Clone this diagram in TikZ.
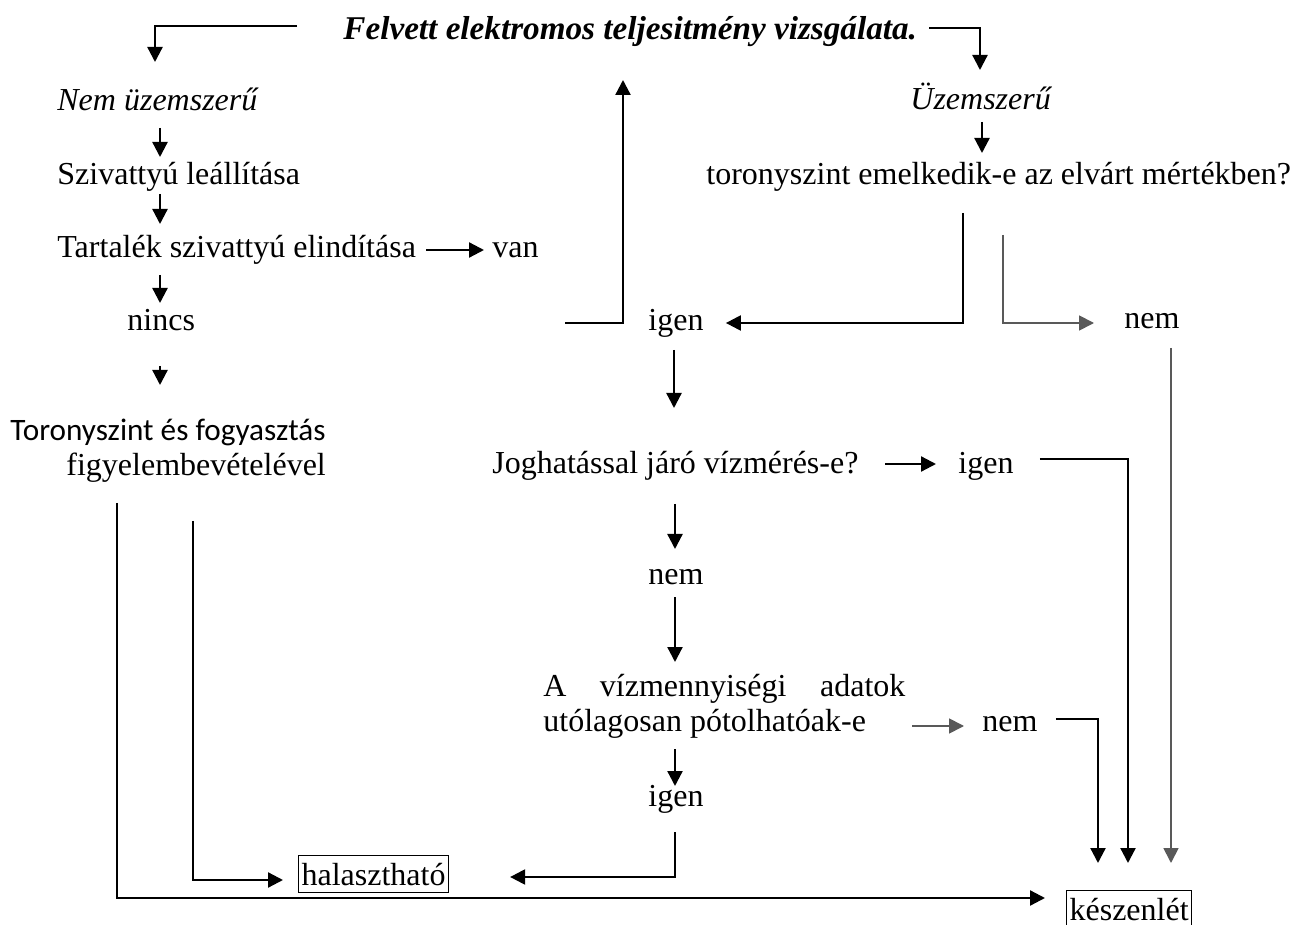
\documentclass[tikz,border=0pt]{standalone}
\usepackage{fontspec}
\setmainfont{Liberation Serif}
\newfontfamily\calfont{Carlito}
\usetikzlibrary{arrows.meta,calc}
\begin{document}
\begin{tikzpicture}[x=0.5pt,y=-0.5pt,
  txt/.style={font=\fontsize{16}{19}\selectfont, inner sep=0pt, anchor=base west},
  boxed/.style={txt, draw, line width=0.6pt, inner xsep=1.5pt, inner ysep=3.5pt},
  link/.style={line width=1.15pt, -{Triangle[length=7.5pt,width=7.5pt]}},
  greylink/.style={link, draw=black!65, line width=0.9pt}
]
\useasboundingbox[fill=white] (0,0) rectangle (1303,925);

% ---- texts ----
\node[txt, font=\fontsize{16.6}{19}\selectfont] (title) at (343,40) {\textbf{\textit{Felvett elektromos teljesitmény vizsgálata.}}};
\node[txt] (nem0) at (57,111) {\textit{Nem üzemszerű}};
\node[txt] (uzem) at (910,110) {\textit{Üzemszerű}};
\node[txt] (sziv) at (57,185) {Szivattyú leállítása};
\node[txt] (tor) at (706,185) {toronyszint emelkedik-e az elvárt mértékben?};
\node[txt] (tart) at (57,258) {Tartalék szivattyú elindítása};
\node[txt] (van) at (492,258) {van};
\node[txt] (nincs) at (127,331) {nincs};
\node[txt] (igen1) at (648,331) {igen};
\node[txt] (nem1) at (1124,329) {nem};
\node[txt, font=\fontsize{15.6}{19}\selectfont] (toro) at (10,441) {\calfont Toronyszint és fogyasztás};
\node[txt] (figy) at (66,476) {figyelembevételével};
\node[txt] (jog) at (492,474) {Joghatással járó vízmérés-e?};
\node[txt] (igen2) at (958,474) {igen};
\node[txt] (nem2) at (648,585) {nem};
\node[txt] (vizm) at (543,697) {\makebox[181pt][s]{A vízmennyiségi adatok}};
\node[txt] (utol) at (543,731) {utólagosan pótolhatóak-e};
\node[txt] (nem3) at (982,731) {nem};
\node[txt] (igen3) at (648,806) {igen};
\node[boxed] (hal) at (298,885) {halasztható};
\node[boxed] (kesz) at (1066,920) {készenlét};

% ---- connectors ----
\draw[link] ($(title.base west)+(-46,-14)$) -| ($(nem0.base west)+(98,-49)$);
\draw[link] ($(title.base east)+(12,-12)$) -| ($(uzem.base west)+(70,-40)$);

\draw[link] ($(nem0.base west)+(103,17)$) -- ($(sziv.base west)+(103,-28)$);
\draw[link] ($(sziv.base west)+(103,9)$) -- ($(tart.base west)+(103,-34)$);
\draw[link] ($(tart.base east)+(10,-8)$) -- ($(van.base west)+(-8,-8)$);
\draw[link] ($(tart.base west)+(103,17)$) -- ($(nincs.base west)+(33,-28)$);
\draw[link] ($(nincs.base west)+(33,35)$) -- ($(toro.base west)+(150,-56)$);

\draw[link] ($(igen1.base west)+(-83,-8)$) -| ($(title.base west)+(280,40)$);

\draw[link] ($(uzem.base west)+(72,12)$) -- ($(tor.base west)+(276,-32)$);
\draw[link] ($(tor.base west)+(257,28)$) |- ($(igen1.base east)+(22,-8)$);
\draw[greylink] ($(tor.base west)+(297,50)$) |- ($(nem1.base west)+(-30,-6)$);
\draw[greylink] ($(nem1.base west)+(47,19)$) -- ($(kesz.base west)+(105,-57)$);

\draw[link] ($(igen1.base west)+(26,19)$) -- ($(jog.base west)+(182,-66)$);
\draw[link] ($(jog.base west)+(393,-10)$) -- ($(igen2.base west)+(-22,-10)$);
\draw[link] ($(igen2.base east)+(26,-15)$) -| ($(kesz.base west)+(62,-57)$);

\draw[link] ($(jog.base west)+(183,30)$) -- ($(nem2.base west)+(27,-36)$);
\draw[link] ($(nem2.base west)+(27,12)$) -- ($(vizm.base west)+(132,-35)$);
\draw[greylink] ($(utol.base east)+(46,-5)$) -- ($(nem3.base west)+(-18,-5)$);
\draw[link] ($(nem3.base east)+(18,-12)$) -| ($(kesz.base west)+(32,-57)$);
\draw[link] ($(utol.base west)+(132,18)$) -- ($(igen3.base west)+(27,-20)$);
\draw[link] ($(igen3.base west)+(27,26)$) |- ($(hal.base east)+(61,-8)$);

\draw[link] ($(toro.base west)+(107,62)$) |- ($(kesz.base west)+(-21,-22)$);
\draw[link] ($(toro.base west)+(183,80)$) |- ($(hal.base west)+(-15,-5)$);
\end{tikzpicture}
\end{document}
